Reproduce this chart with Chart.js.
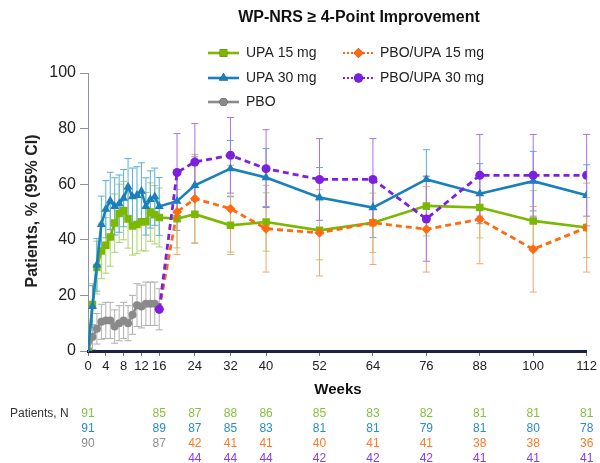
<!DOCTYPE html>
<html>
<head>
<meta charset="utf-8">
<script src="https://cdn.jsdelivr.net/npm/chart.js@4.4.1/dist/chart.umd.min.js"></script>
<style>
html,body{margin:0;padding:0;background:#fff;}
#wrap{width:600px;height:463px;position:relative;}
</style>
</head>
<body>
<div id="wrap"><canvas id="c" width="600" height="463"></canvas></div>
<script>
// ---------- DATA ----------
const title = "WP-NRS \u2265 4-Point Improvement";
const xTickValues = [0, 4, 8, 12, 16, 24, 32, 40, 52, 64, 76, 88, 100, 112];
const earlyWeeks = [0,1,2,3,4,5,6,7,8,9,10,11,12,13,14,15,16];
const lateWeeks = [20, 24, 32, 40, 52, 64, 76, 88, 100, 112];
const allWeeks = earlyWeeks.concat(lateWeeks);
const switchWeeks = [16].concat(lateWeeks);

const upa15 = [0,16.7,30,36,38,41,46,49.5,50.5,47.5,45,45.5,46.5,46.5,50,49,48,
               47.6,49.2,45.2,46.4,43.4,46.1,52.2,51.6,46.8,44.4];
const upa15Err = [0,7.5,9.5,10,10,10.5,10.5,10.5,10.5,10.5,10.5,10.5,10.5,10.5,10.5,10.5,10.6,
                  10.5,10.5,10.5,10.5,10.6,10.7,10.8,10.9,10.9,10.8];
const upa30 = [0,16,31,45.5,51,54,52,53,55,59,55.5,56,57.5,52,54.5,55.5,52,
               53.9,59.6,65.6,62.4,55.2,51.6,61.7,56.6,61.1,56.0];
const upa30Err = [0,7.5,9.5,10.2,10.3,10.3,10.3,10.3,10.3,10.2,10.3,10.3,10.2,10.3,10.3,10.3,10.4,
                  10.5,10.3,10.1,10.4,10.8,10.8,10.7,10.8,10.7,11];
const pbo = [0,5,8,10.5,11,11,8.8,10,11,10,13,16.5,16,17,17,17,15];
const pboErr = [0,4.5,5.5,6.3,6.5,6.5,6,6.3,6.5,6.3,7,7.7,7.7,7.8,7.8,7.8,7.4];
const pboUpa15 = [15, 50.0,54.8,51.2,44.0,42.5,46.1,43.8,47.4,36.6,44.4];
const pboUpa15Err = [0, 15.3,15.9,15.6,15.6,15.5,15,15.4,16,15.4,16];
const pboUpa30 = [15, 64.2,68.0,70.4,65.6,61.7,61.7,47.5,63.2,63.2,63.2];
const pboUpa30Err = [0, 14,13.8,13.6,14,14.7,14.7,15.2,14.7,14.7,14.7];

const tableWeeks = [0,16,24,32,40,52,64,76,88,100,112];
const nUpa15 = [91,85,87,88,86,85,83,82,81,81,81];
const nUpa30 = [91,89,87,85,83,81,81,79,81,80,78];
const nPboWeeks = [0,16];
const nPbo = [90,87];
const nSwitchWeeks = [24,32,40,52,64,76,88,100,112];
const nPboUpa15 = [42,41,41,40,41,41,38,38,36];
const nPboUpa30 = [44,44,44,42,42,42,41,41,41];

// ---------- STYLE ----------
const FONT = "Arial, 'Liberation Sans', sans-serif";
const C = {
  g:'#7cb800', gE:'#a9d46c', gT:'#86c040',
  b:'#1a7fbd', bE:'#5aaedb', bT:'#2b8cc8',
  k:'#8a8a8a', kE:'#b0b0b0', kT:'#8f8f8f',
  o:'#ff6a10', oE:'#f5a66f', oT:'#ff7a22',
  p:'#7d1fe0', pE:'#a873ea', pT:'#8a3be0'
};

function pts(xs, ys){ return xs.map((x,i)=>({x:x, y:ys[i]})); }

const datasets = [
  {label:'PBO/UPA 30 mg', data:pts(switchWeeks,pboUpa30), err:pboUpa30Err, errColor:C.pE,
   borderColor:C.p, backgroundColor:C.p, borderDash:[6,4], borderWidth:2.8,
   pointStyle:'circle', pointRadius:4.5, order:1},
  {label:'PBO/UPA 15 mg', data:pts(switchWeeks,pboUpa15), err:pboUpa15Err, errColor:C.oE,
   borderColor:C.o, backgroundColor:C.o, borderDash:[6,4], borderWidth:2.8,
   pointStyle:'rectRot', pointRadius:5, order:2},
  {label:'UPA 30 mg', data:pts(allWeeks,upa30), err:upa30Err, errColor:C.bE,
   borderColor:C.b, backgroundColor:C.b, borderWidth:2.6,
   pointStyle:'triangle', pointRadius:5.2, order:3},
  {label:'UPA 15 mg', data:pts(allWeeks,upa15), err:upa15Err, errColor:C.gE,
   borderColor:C.g, backgroundColor:C.g, borderWidth:2.6,
   pointStyle:'rect', pointRadius:5.3, order:4},
  {label:'PBO', data:pts(earlyWeeks,pbo), err:pboErr, errColor:C.kE,
   borderColor:C.k, backgroundColor:C.k, borderWidth:2.6,
   pointStyle:'circle', pointRadius:4, order:5}
];
datasets.forEach(d=>{ d.tension=0; d.pointBorderWidth=0; d.pointBackgroundColor=d.borderColor; d.fill=false; });

// error bars
const errorBars = {
  id:'errorBars',
  beforeDatasetsDraw(chart){
    const ctx = chart.ctx, xs = chart.scales.x, ys = chart.scales.y;
    ctx.save();
    ctx.lineWidth = 1;
    const order = [4,3,2,1,0];
    order.forEach(i=>{
      const ds = chart.data.datasets[i];
      ctx.strokeStyle = ds.errColor;
      ds.data.forEach((p,j)=>{
        const e = ds.err[j];
        if(!e) return;
        const x = xs.getPixelForValue(p.x);
        const y1 = ys.getPixelForValue(p.y + e);
        const y2 = ys.getPixelForValue(p.y - e);
        ctx.beginPath();
        ctx.moveTo(x, y1); ctx.lineTo(x, y2);
        ctx.moveTo(x-3.5, y1); ctx.lineTo(x+3.5, y1);
        ctx.moveTo(x-3.5, y2); ctx.lineTo(x+3.5, y2);
        ctx.stroke();
      });
    });
    ctx.restore();
  }
};

// titles, legend, table
const extras = {
  id:'extras',
  afterDraw(chart){
    const ctx = chart.ctx, xs = chart.scales.x;
    ctx.save();
    ctx.fillStyle = '#111';
    ctx.textBaseline = 'middle';
    ctx.textAlign = 'center';
    ctx.font = 'bold 16px ' + FONT;
    ctx.fillText(title, 359, 18);

    // y axis title
    ctx.save();
    ctx.translate(33, 211);
    ctx.rotate(-Math.PI/2);
    ctx.font = 'bold 16px ' + FONT;
    ctx.fillStyle = '#222';
    ctx.fillText('Patients, % (95% CI)', 0, 0);
    ctx.restore();

    // x axis title
    ctx.font = 'bold 15px ' + FONT;
    ctx.fillStyle = '#111';
    ctx.fillText('Weeks', 338, 390);

    // legend
    const leg = [
      {ds:3, x:208, y:53}, {ds:2, x:208, y:78}, {ds:4, x:208, y:102},
      {ds:1, x:343, y:53}, {ds:0, x:343, y:78}
    ];
    leg.forEach(l=>{
      const ds = chart.data.datasets[l.ds];
      ctx.save();
      ctx.strokeStyle = ds.borderColor;
      ctx.lineWidth = ds.borderDash ? 2 : 2.6;
      ctx.setLineDash(ds.borderDash ? [2,2] : []);
      ctx.beginPath(); ctx.moveTo(l.x, l.y); ctx.lineTo(l.x+31, l.y); ctx.stroke();
      ctx.restore();
      Chart.helpers.drawPoint(ctx, {pointStyle:ds.pointStyle, radius:ds.pointRadius, borderWidth:0, rotation:0},
        l.x+15.5, l.y);
      ctx.fillStyle = ds.borderColor;
      ctx.fill();
      ctx.fillStyle = '#222';
      ctx.font = '14px ' + FONT;
      ctx.textAlign = 'left';
      ctx.fillText(ds.label, l.x + (ds.borderDash ? 37 : 38), l.y);
    });

    // table
    ctx.font = '12px ' + FONT;
    ctx.textAlign = 'left';
    ctx.fillStyle = '#333';
    ctx.fillText('Patients, N', 10, 414);
    ctx.textAlign = 'center';
    const row = (weeks, vals, color, y)=>{
      ctx.fillStyle = color;
      weeks.forEach((w,i)=> ctx.fillText(String(vals[i]), xs.getPixelForValue(w), y));
    };
    row(tableWeeks, nUpa15, C.gT, 414);
    row(tableWeeks, nUpa30, C.bT, 429);
    row(nPboWeeks, nPbo, C.kT, 444);
    row(nSwitchWeeks, nPboUpa15, C.oT, 444);
    row(nSwitchWeeks, nPboUpa30, C.pT, 459);
    ctx.restore();
  }
};

new Chart(document.getElementById('c'), {
  type:'line',
  data:{datasets:datasets},
  options:{
    responsive:false,
    animation:false,
    devicePixelRatio:1,
    layout:{padding:{top:73,right:12,left:0,bottom:0}},
    plugins:{legend:{display:false}, tooltip:{enabled:false}},
    scales:{
      x:{type:'linear', min:0, max:112,
         afterBuildTicks:(s)=>{ s.ticks = xTickValues.map(v=>({value:v})); },
         afterFit:(s)=>{ s.height = 112; },
         ticks:{autoSkip:false, maxRotation:0, color:'#222', padding:3, font:{family:FONT, size:13}},
         grid:{drawOnChartArea:false, tickLength:5, color:'#777', lineWidth:1},
         border:{color:'#1c2245', width:3}},
      y:{min:0, max:100,
         afterFit:(s)=>{ s.width = 88; },
         ticks:{stepSize:20, color:'#222', padding:4, font:{family:FONT, size:16}},
         grid:{drawOnChartArea:false, tickLength:8, color:'#8a90aa', lineWidth:1},
         border:{color:'#8a90aa', width:1}}
    }
  },
  plugins:[errorBars, extras]
});
</script>
</body>
</html>
